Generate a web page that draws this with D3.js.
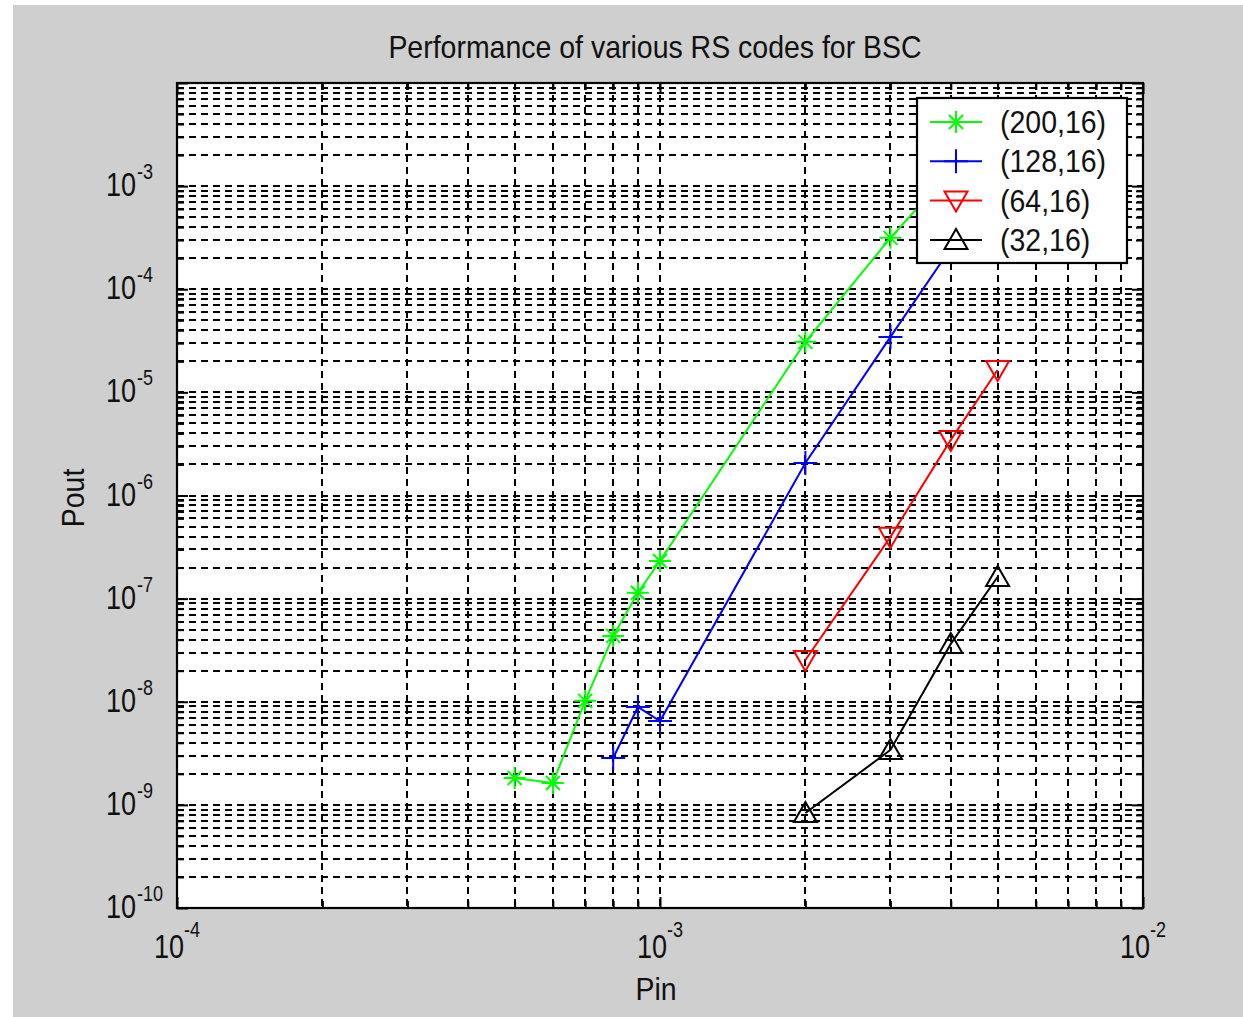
<!DOCTYPE html>
<html>
<head>
<meta charset="utf-8">
<script src="https://cdn.jsdelivr.net/npm/d3@7"></script>
<style>
  body { margin: 0; background: #fff; }
  svg { display: block; }
  text { font-family: "Liberation Sans", Arial, sans-serif; fill: #111; }
</style>
</head>
<body>
<svg id="chart" width="1243" height="1017"></svg>
<script>
// data
const pin200 = [5e-4, 6e-4, 7e-4, 8e-4, 9e-4, 1e-3, 2e-3, 3e-3, 4e-3, 5e-3];
const pout200 = [1.82e-9, 1.63e-9, 1.02e-8, 4.35e-8, 1.14e-7, 2.32e-7, 3.09e-5, 3.15e-4, 1.4e-3, 3.8e-3];
const pin128 = [8e-4, 9e-4, 1e-3, 2e-3, 3e-3, 4e-3, 5e-3];
const pout128 = [2.85e-9, 8.9e-9, 6.5e-9, 2.07e-6, 3.45e-5, 2.5e-4, 1.5e-3];
const pin64 = [2e-3, 3e-3, 4e-3, 5e-3];
const pout64 = [2.54e-8, 3.97e-7, 3.46e-6, 1.65e-5];
const pin32 = [2e-3, 3e-3, 4e-3, 5e-3];
const pout32 = [8.35e-10, 3.41e-9, 3.64e-8, 1.62e-7];

const seriesNames = ['(200,16)', '(128,16)', '(64,16)', '(32,16)'];
const seriesColors = ['#00ff00', '#0000ff', '#ff0000', '#000000'];
const seriesMarkers = ['star', 'plus', 'triDown', 'triUp'];

const xDecades = [1e-4, 1e-3, 1e-2];
const yDecades = [1e-10, 1e-9, 1e-8, 1e-7, 1e-6, 1e-5, 1e-4, 1e-3, 1e-2];
const xExponents = ['-4', '-3', '-2'];
const yExponents = ['-10', '-9', '-8', '-7', '-6', '-5', '-4', '-3'];
const minorSteps = [2, 3, 4, 5, 6, 7, 8, 9];

const svg = d3.select('#chart');
const W = 1243, H = 1017;
const L = 177, R = 1143, T = 83, B = 908;

const x = d3.scaleLog().domain([1e-4, 1e-2]).range([L, R]);
const y = d3.scaleLog().domain([1e-10, 1e-2]).range([B, T]);

// narrow-looking text: squeeze horizontally around the anchor point
function label(px, py, size, sx, anchor) {
  return svg.append('g').attr('transform', `translate(${px},${py}) scale(${sx},1)`)
    .append('text').attr('text-anchor', anchor || 'start').style('font-size', size + 'px');
}

// figure background
svg.append('rect').attr('x', 13).attr('y', 5).attr('width', W - 13).attr('height', H - 5)
  .attr('fill', '#cfcfcf');
svg.append('rect').attr('x', L).attr('y', T).attr('width', R - L).attr('height', B - T)
  .attr('fill', '#fff');

const xMinor = xDecades.slice(0, -1).flatMap(d => minorSteps.map(k => k * d));
const yMinor = yDecades.slice(0, -1).flatMap(d => minorSteps.map(k => k * d));
const xGrid = xMinor.concat([1e-3]);
const yGrid = yMinor.concat(yDecades.slice(1, -1));

// dashed grid
const grid = svg.append('g').attr('stroke', '#000').attr('stroke-width', 2)
  .attr('stroke-dasharray', '7,5').attr('shape-rendering', 'crispEdges');
grid.selectAll('.gx').data(xGrid).enter().append('line')
  .attr('x1', d => Math.round(x(d))).attr('x2', d => Math.round(x(d))).attr('y1', T).attr('y2', B);
grid.selectAll('.gy').data(yGrid).enter().append('line')
  .attr('x1', L).attr('x2', R).attr('y1', d => Math.round(y(d))).attr('y2', d => Math.round(y(d)));

// inner ticks on all four sides
function ticks(axisFn, vals, size, tr) {
  const g = svg.append('g').attr('transform', tr)
    .call(axisFn.tickValues(vals).tickSize(size).tickSizeOuter(0).tickFormat(''));
  g.select('.domain').remove();
  g.selectAll('line').attr('stroke', '#000').attr('stroke-width', 2);
}
ticks(d3.axisBottom(x), xDecades, -11, `translate(0,${B})`);
ticks(d3.axisBottom(x), xMinor, -7, `translate(0,${B})`);
ticks(d3.axisTop(x), xDecades, -11, `translate(0,${T})`);
ticks(d3.axisTop(x), xMinor, -7, `translate(0,${T})`);
ticks(d3.axisLeft(y), yDecades, -11, `translate(${L},0)`);
ticks(d3.axisLeft(y), yMinor, -7, `translate(${L},0)`);
ticks(d3.axisRight(y), yDecades, -11, `translate(${R},0)`);
ticks(d3.axisRight(y), yMinor, -7, `translate(${R},0)`);

svg.append('rect').attr('x', L).attr('y', T).attr('width', R - L).attr('height', B - T)
  .attr('fill', 'none').attr('stroke', '#000').attr('stroke-width', 2.2);

// tick labels with superscripts
xDecades.forEach((d, i) => {
  const t = label(x(d), 958, 33, 0.82, 'middle');
  t.append('tspan').text('10');
  t.append('tspan').attr('dy', -21).style('font-size', '22px').text(xExponents[i]);
});
yDecades.slice(0, -1).forEach((d, i) => {
  label(136, y(d) + 10, 33, 0.82, 'end').text('10');
  label(137, y(d) - 7, 22, 0.82).text(yExponents[i]);
});

label(655, 58, 32, 0.89, 'middle').text('Performance of various RS codes for BSC');
label(656, 1000, 32, 0.89, 'middle').text('Pin');
svg.append('g').attr('transform', 'translate(84,498) rotate(-90) scale(0.89,1)')
  .append('text').attr('text-anchor', 'middle').style('font-size', '32px').text('Pout');

// markers
const markerPath = {
  star: 'M-11,0H11M0,-11V11M-7,-7L7,7M-7,7L7,-7',
  plus: 'M-12,0H12M0,-12V12',
  triDown: 'M-11.5,-9L11.5,-9L0,11Z',
  triUp: 'M-11.5,9L11.5,9L0,-11Z'
};

const series = [
  { pin: pin200, pout: pout200 },
  { pin: pin128, pout: pout128 },
  { pin: pin64, pout: pout64 },
  { pin: pin32, pout: pout32 }
];

svg.append('clipPath').attr('id', 'clip').append('rect')
  .attr('x', L).attr('y', T).attr('width', R - L).attr('height', B - T);
const plot = svg.append('g').attr('clip-path', 'url(#clip)');

const line = d3.line().x(d => x(d[0])).y(d => y(d[1]));

series.forEach((s, i) => {
  const pts = s.pin.map((p, j) => [p, s.pout[j]]);
  plot.append('path').datum(pts).attr('d', line)
    .attr('fill', 'none').attr('stroke', seriesColors[i]).attr('stroke-width', 2);
  plot.selectAll(null).data(pts).enter().append('path')
    .attr('transform', d => `translate(${x(d[0])},${y(d[1])})`)
    .attr('d', markerPath[seriesMarkers[i]])
    .attr('fill', 'none').attr('stroke', seriesColors[i]).attr('stroke-width', 2);
});

// legend
const lg = svg.append('g');
lg.append('rect').attr('x', 917).attr('y', 98).attr('width', 210).attr('height', 165)
  .attr('fill', '#fff').attr('stroke', '#000').attr('stroke-width', 2.2);
seriesNames.forEach((name, i) => {
  const ry = 122 + i * 39.3;
  lg.append('line').attr('x1', 930).attr('x2', 982).attr('y1', ry).attr('y2', ry)
    .attr('stroke', seriesColors[i]).attr('stroke-width', 2);
  lg.append('path').attr('transform', `translate(956,${ry})`)
    .attr('d', markerPath[seriesMarkers[i]])
    .attr('fill', 'none').attr('stroke', seriesColors[i]).attr('stroke-width', 2);
  label(1000, ry + 11, 32, 0.89).text(name);
});
</script>
</body>
</html>
